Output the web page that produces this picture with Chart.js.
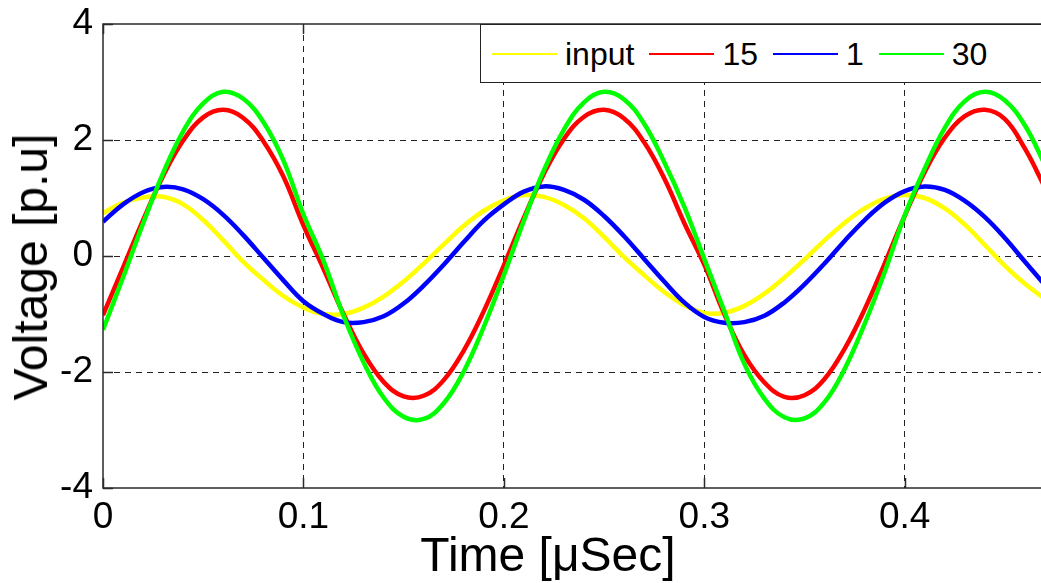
<!DOCTYPE html>
<html>
<head>
<meta charset="utf-8">
<script src="https://cdn.jsdelivr.net/npm/chart.js@4.4.1/dist/chart.umd.min.js"></script>
<style>
html,body{margin:0;padding:0;background:#fff;overflow:hidden;width:1041px;height:583px;}
#wrap{position:relative;width:1041px;height:583px;overflow:hidden;}
#c{position:absolute;left:0;top:0;}
#legend{position:absolute;left:480px;top:24px;width:600px;height:59px;border:1.5px solid #222;background:#fff;box-sizing:border-box;
  font-family:"Liberation Sans",Arial,sans-serif;font-size:32px;color:#000;display:flex;align-items:center;padding-left:11px;}
#legend .ln{width:65px;height:2px;margin-right:8px;flex:none;}
#legend .tx{margin-right:15px;line-height:1;white-space:nowrap;}
.axt{position:absolute;font-family:"Liberation Sans",Arial,sans-serif;font-size:48px;line-height:1;color:#000;white-space:nowrap;}
#xtitle{left:548px;top:531px;transform:translateX(-50%);}
#ytitle{left:31px;top:267px;transform:translate(-50%,-50%) rotate(-90deg);}
</style>
</head>
<body>
<div id="wrap">
<canvas id="c" width="1048" height="583"></canvas>
<div id="legend"></div>
<div id="xtitle" class="axt"></div>
<div id="ytitle" class="axt"></div>
</div>
<script>
// ---- data ----
const times = [0.00,0.01,0.02,0.03,0.04,0.05,0.06,0.07,0.08,0.09,
               0.10,0.11,0.12,0.13,0.14,0.15,0.16,0.17,0.18,0.19,
               0.20,0.21,0.22,0.23,0.24,0.25,0.26,0.27,0.28,0.29,
               0.30,0.31,0.32,0.33,0.34,0.35,0.36,0.37,0.38,0.39,
               0.40,0.41,0.42,0.43,0.44,0.45,0.46,0.47];

const inputValues = [0.74,0.92,1.01,1.02,0.89,0.62,0.27,-0.10,-0.41,-0.69,
                     -0.89,-1.00,-1.00,-0.89,-0.70,-0.44,-0.13,0.20,0.52,0.78,
                     0.96,1.05,1.02,0.88,0.65,0.33,-0.02,-0.33,-0.62,-0.85,
                     -0.98,-0.98,-0.86,-0.65,-0.37,-0.06,0.27,0.57,0.82,0.99,
                     1.05,1.00,0.82,0.54,0.19,-0.17,-0.48,-0.74];

const values15 = [-1.02,-0.20,0.62,1.38,1.99,2.39,2.52,2.38,1.98,1.37,
                  0.53,-0.22,-1.00,-1.68,-2.17,-2.42,-2.41,-2.14,-1.63,-0.95,
                  -0.16,0.66,1.42,2.02,2.40,2.52,2.37,1.96,1.34,0.57,
                  -0.15,-1.00,-1.71,-2.18,-2.43,-2.40,-2.12,-1.60,-0.92,-0.13,
                  0.69,1.45,2.04,2.41,2.52,2.36,1.85,1.18];

const values1 = [0.59,0.89,1.10,1.19,1.15,0.98,0.71,0.36,-0.03,-0.42,
                 -0.78,-1.00,-1.14,-1.14,-1.04,-0.82,-0.51,-0.15,0.24,0.61,
                 0.89,1.11,1.20,1.14,0.97,0.69,0.34,-0.05,-0.44,-0.80,
                 -1.05,-1.15,-1.14,-1.03,-0.80,-0.49,-0.13,0.26,0.62,0.92,
                 1.12,1.20,1.14,0.95,0.67,0.31,-0.10,-0.50];

const values30 = [-1.27,-0.37,0.56,1.43,2.15,2.63,2.83,2.71,2.31,1.65,
                  0.72,-0.08,-1.03,-1.83,-2.44,-2.77,-2.81,-2.54,-1.99,-1.22,
                  -0.33,0.61,1.48,2.18,2.65,2.83,2.70,2.28,1.62,0.85,
                  -0.05,-0.95,-1.86,-2.46,-2.78,-2.80,-2.52,-1.95,-1.17,-0.28,
                  0.70,1.51,2.21,2.67,2.83,2.68,2.25,1.57];

const seriesLabels = ["input","15","1","30"];
const seriesColors = ["#ffff00","#ff0000","#0000ff","#00ff00"];
const xTicks = [0,0.1,0.2,0.3,0.4];
const xTickLabels = ["0","0.1","0.2","0.3","0.4"];
const yTicks = [-4,-2,0,2,4];
const yTickLabels = ["-4","-2","0","2","4"];
const xTitle = "Time [μSec]";
const yTitle = "Voltage [p.u]";

// ---- chart ----
const FAMILY = '"Liberation Sans", Arial, sans-serif';
const seriesValues = [inputValues, values15, values1, values30];
const drawOrder = [4,3,2,1]; // later series drawn on top

const datasets = seriesValues.map((vals,i)=>({
  label: seriesLabels[i],
  data: times.map((t,j)=>({x:t, y:vals[j]})),
  borderColor: seriesColors[i],
  backgroundColor: seriesColors[i],
  borderWidth: 4.5,
  pointRadius: 0,
  tension: 0.4,
  fill: false,
  order: drawOrder[i]
}));

const gridColor = (ends) => (c) => (c.tick && ends.includes(c.tick.value)) ? 'rgba(0,0,0,0)' : '#222';

const boxPlugin = {
  id: 'matlabBox',
  afterDraw(chart){
    const {ctx, chartArea:a, scales} = chart;
    ctx.save();
    ctx.strokeStyle = '#2a2a2a';
    ctx.lineWidth = 1.5;
    ctx.strokeRect(a.left, a.top, a.right - a.left, a.bottom - a.top);
    ctx.beginPath();
    xTicks.forEach(v=>{
      const px = Math.round(scales.x.getPixelForValue(v)) + 0.5;
      ctx.moveTo(px, a.bottom); ctx.lineTo(px, a.bottom - 10);
      ctx.moveTo(px, a.top); ctx.lineTo(px, a.top + 10);
    });
    yTicks.forEach(v=>{
      const py = Math.round(scales.y.getPixelForValue(v)) + 0.5;
      ctx.moveTo(a.left, py); ctx.lineTo(a.left + 10, py);
    });
    ctx.stroke();
    ctx.restore();
  }
};

new Chart(document.getElementById('c'), {
  type: 'line',
  data: { datasets },
  options: {
    responsive: false,
    animation: false,
    devicePixelRatio: 1,
    layout: { padding: { top: 24, right: 3, left: 0, bottom: 0 } },
    plugins: { legend: { display: false }, tooltip: { enabled: false } },
    scales: {
      x: {
        type: 'linear', min: 0, max: 0.47,
        afterBuildTicks: s => { s.ticks = xTicks.map(v=>({value:v})); },
        afterFit: s => { s.height = 95; s.paddingLeft = 0; s.paddingRight = 0; },
        ticks: {
          callback: (v) => xTickLabels[xTicks.indexOf(v)],
          font: { family: FAMILY, size: 37 }, color: '#000',
          padding: 8, maxRotation: 0, autoSkip: false
        },
        grid: { drawTicks: false, color: gridColor([0]), lineWidth: 1 },
        border: { display: false, dash: [6,5] }
      },
      y: {
        type: 'linear', min: -4, max: 4,
        afterBuildTicks: s => { s.ticks = yTicks.map(v=>({value:v})); },
        afterFit: s => { s.width = 103; s.paddingTop = 0; s.paddingBottom = 0; },
        ticks: {
          callback: (v) => yTickLabels[yTicks.indexOf(v)],
          font: { family: FAMILY, size: 37 }, color: '#000',
          padding: 10, autoSkip: false
        },
        grid: { drawTicks: false, color: gridColor([-4,4]), lineWidth: 1 },
        border: { display: false, dash: [6,5] }
      }
    }
  },
  plugins: [boxPlugin]
});

// ---- axis titles and legend (HTML, built from the arrays above) ----
document.getElementById('xtitle').textContent = xTitle;
document.getElementById('ytitle').textContent = yTitle;
const legend = document.getElementById('legend');
seriesLabels.forEach((lab,i)=>{
  const ln = document.createElement('div'); ln.className='ln'; ln.style.background = seriesColors[i];
  const tx = document.createElement('span'); tx.className='tx'; tx.textContent = lab;
  legend.appendChild(ln); legend.appendChild(tx);
});
</script>
</body>
</html>
